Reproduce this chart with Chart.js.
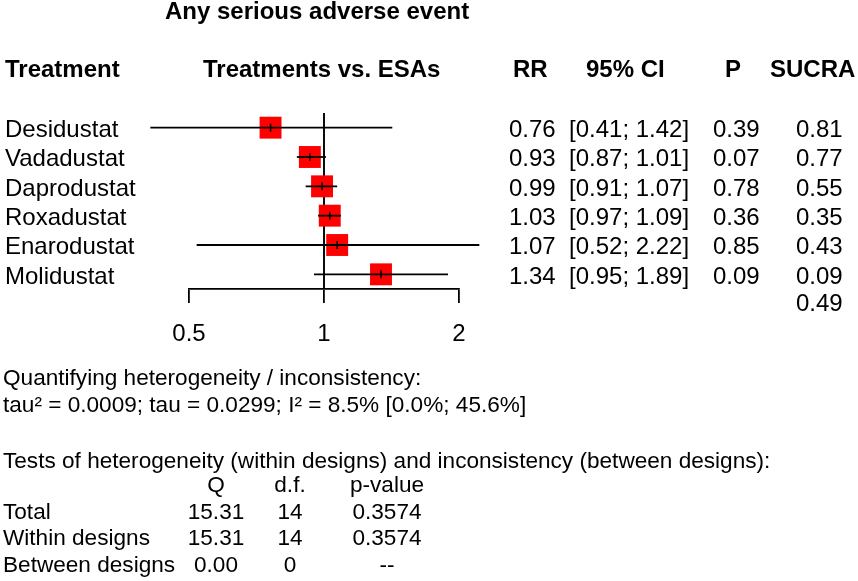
<!DOCTYPE html>
<html>
<head>
<meta charset="utf-8">
<script src="https://cdn.jsdelivr.net/npm/chart.js@4.4.1/dist/chart.umd.min.js"></script>
<style>
  body { margin: 0; background: #fff; }
  #wrap { position: relative; width: 858px; height: 581px; overflow: hidden;
          font-family: "Liberation Sans", Arial, sans-serif; color: #000; }
  #plot { position: absolute; left: 0; top: 0; }
  .t { position: absolute; white-space: pre; line-height: 1; }
  .b { font-weight: bold; }
</style>
</head>
<body>
<div id="wrap"><canvas id="plot" width="858" height="581"></canvas></div>
<script>
// data
const treatments = ["Desidustat", "Vadadustat", "Daprodustat", "Roxadustat", "Enarodustat", "Molidustat"];
const rr    = [0.76, 0.93, 0.99, 1.03, 1.07, 1.34];
const lower = [0.41, 0.87, 0.91, 0.97, 0.52, 0.95];
const upper = [1.42, 1.01, 1.07, 1.09, 2.22, 1.89];
const pval  = [0.39, 0.07, 0.78, 0.36, 0.85, 0.09];
const sucra = [0.81, 0.77, 0.55, 0.35, 0.43, 0.09];
const sucraRef = 0.49;
const xTicks = [0.5, 1, 2];
const nullValue = 1;

const hetLabels = ["Total", "Within designs", "Between designs"];
const hetQ  = ["15.31", "15.31", "0.00"];
const hetDf = ["14", "14", "0"];
const hetP  = ["0.3574", "0.3574", "--"];

const yMin = -0.5, yMax = treatments.length - 0.5;
const FONT = "'Liberation Sans', Arial, sans-serif";

/* datasets */
const ciSets = treatments.map((t, i) => ({
  label: t,
  data: [{x: lower[i], y: i}, {x: upper[i], y: i}],
  showLine: true,
  borderColor: "#000",
  borderWidth: 1.8,
  pointRadius: 0,
  clip: false,
  order: 1
}));

const chart = new Chart(document.getElementById("plot"), {
  type: "scatter",
  data: {
    datasets: [
      {
        label: "ref",
        data: [{x: nullValue, y: yMin}, {x: nullValue, y: yMax}],
        showLine: true,
        borderColor: "#000",
        borderWidth: 1.9,
        pointRadius: 0,
        order: 3
      },
      {
        label: "RR",
        data: rr.map((v, i) => ({x: v, y: i})),
        pointStyle: "rect",
        pointRadius: 15.5,
        pointBackgroundColor: "#ff0000",
        pointBorderWidth: 0,
        clip: false,
        order: 2
      },
      ...ciSets,
      {
        label: "est",
        data: rr.map((v, i) => ({x: v, y: i})),
        pointStyle: "line",
        pointRotation: 90,
        pointRadius: 4,
        pointBorderColor: "#000",
        pointBorderWidth: 1.5,
        order: 0
      }
    ]
  },
  options: {
    responsive: false,
    animation: false,
    events: [],
    layout: { padding: { left: 189, right: 399, top: 113, bottom: 0 } },
    plugins: { legend: { display: false }, tooltip: { enabled: false } },
    scales: {
      x: {
        type: "logarithmic",
        min: 0.5,
        max: 2,
        afterBuildTicks: s => { s.ticks = xTicks.map(v => ({value: v})); },
        afterFit: s => { s.height = 292; },
        ticks: {
          callback: v => String(v),
          color: "#000",
          font: { family: FONT, size: 24 },
          padding: 17,
          maxRotation: 0,
          autoSkip: false
        },
        grid: { display: true, drawOnChartArea: false, drawTicks: true, tickLength: 14, color: "#000", lineWidth: 1.8 },
        border: { display: true, color: "#000", width: 1.8 }
      },
      y: { type: "linear", min: yMin, max: yMax, reverse: true, display: false }
    }
  }
});

/* text */
const wrap = document.getElementById("wrap");
function txt(s, x, base, size, bold, center) {
  const d = document.createElement("div");
  d.className = "t" + (bold ? " b" : "");
  d.textContent = s;
  d.style.fontSize = size + "px";
  d.style.left = x + "px";
  d.style.top = (base - 0.8465 * size) + "px";
  if (center) d.style.transform = "translateX(-50%)";
  wrap.appendChild(d);
}

txt("Any serious adverse event", 165, 19, 24, true);
txt("Treatment", 5, 77, 24, true);
txt("Treatments vs. ESAs", 203, 77, 24, true);
txt("RR", 513, 77, 24, true);
txt("95% CI", 586, 77, 24, true);
txt("P", 725, 77, 24, true);
txt("SUCRA", 770, 77, 24, true);

const ys = chart.scales.y;
const base = i => ys.getPixelForValue(i) + 9.5;
treatments.forEach((t, i) => {
  txt(t, 5, base(i), 24);
  txt(rr[i].toFixed(2), 509, base(i), 24);
  txt("[" + lower[i].toFixed(2) + "; " + upper[i].toFixed(2) + "]", 569, base(i), 24);
  txt(pval[i].toFixed(2), 713, base(i), 24);
  txt(sucra[i].toFixed(2), 796, base(i), 24);
});
txt(sucraRef.toFixed(2), 796, base(treatments.length) - 2, 24);

const SMALL = 22.6;
txt("Quantifying heterogeneity / inconsistency:", 3, 386, SMALL);
txt("tau\u00b2 = 0.0009; tau = 0.0299; I\u00b2 = 8.5% [0.0%; 45.6%]", 3, 413, SMALL);
txt("Tests of heterogeneity (within designs) and inconsistency (between designs):", 3, 469, SMALL);
txt("Q", 216, 493, SMALL, false, true);
txt("d.f.", 290, 493, SMALL, false, true);
txt("p-value", 387, 493, SMALL, false, true);
const hetBase = [520, 546, 573];
hetLabels.forEach((l, i) => {
  txt(l, 3, hetBase[i], SMALL);
  txt(hetQ[i], 216, hetBase[i], SMALL, false, true);
  txt(hetDf[i], 290, hetBase[i], SMALL, false, true);
  txt(hetP[i], 387, hetBase[i], SMALL, false, true);
});
</script>
</body>
</html>
